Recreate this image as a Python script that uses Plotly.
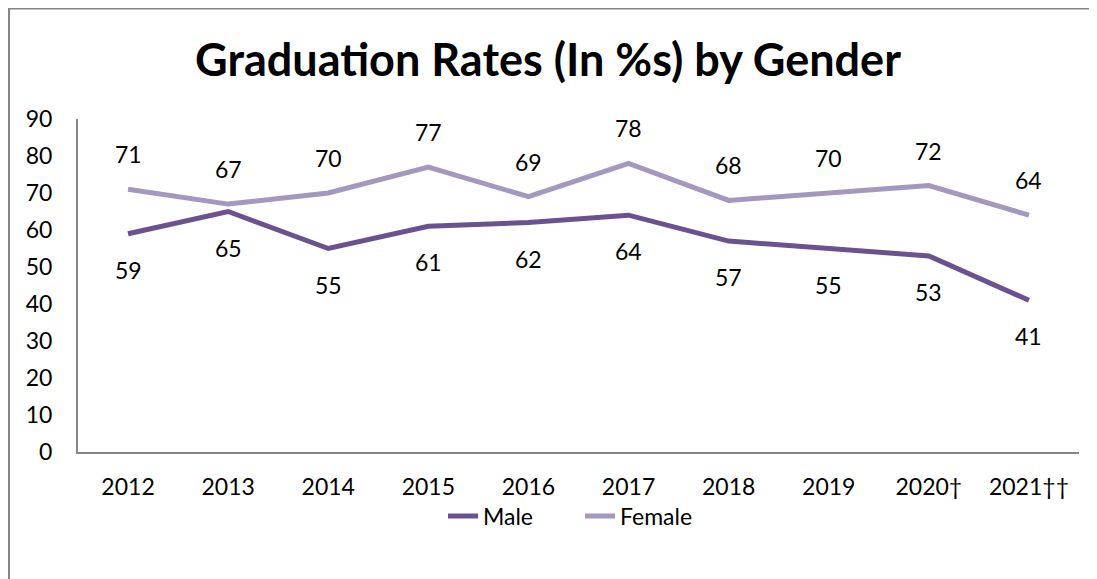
import plotly.graph_objects as go

years = ["2012", "2013", "2014", "2015", "2016", "2017", "2018", "2019", "2020\u2020", "2021\u2020\u2020"]
male = [59, 65, 55, 61, 62, 64, 57, 55, 53, 41]
female = [71, 67, 70, 77, 69, 78, 68, 70, 72, 64]

MALE_C = "#6a5190"
FEMALE_C = "#a597bd"
FONT = "Lato"

# page renders with an 8px body offset
L, T, R, B = 70, 111, 1071, 444
PW, PH = R - L, B - T

fig = go.Figure()
fig.add_trace(go.Scatter(x=years, y=male, mode="lines", name="Male",
                         line=dict(color=MALE_C, width=5)))
fig.add_trace(go.Scatter(x=years, y=female, mode="lines", name="Female",
                         line=dict(color=FEMALE_C, width=5)))

for i, v in enumerate(female):
    fig.add_annotation(x=i, y=v, text=str(v), showarrow=False, yshift=35,
                       font=dict(size=23, color="black", family=FONT))
for i, v in enumerate(male):
    fig.add_annotation(x=i, y=v, text=str(v), showarrow=False, yshift=-36,
                       font=dict(size=23, color="black", family=FONT))

# outer chart border
fig.add_shape(type="rect", xref="paper", yref="paper",
              x0=(1 - L) / PW, x1=1.2, y0=-0.6, y1=(B - 0.5) / PH,
              line=dict(color="#868686", width=2), layer="below")

fig.update_layout(
    width=1097, height=579,
    margin=dict(l=L, r=1097 - R, t=T, b=579 - B, autoexpand=False),
    paper_bgcolor="white", plot_bgcolor="white",
    font=dict(family=FONT, size=23, color="black"),
    title=dict(text="<b>Graduation Rates (In %s) by Gender</b>", x=(548 - 8) / 1097, xanchor="center",
               y=1 - 52 / 579, yanchor="middle", font=dict(size=45, family=FONT, color="black")),
    xaxis=dict(type="category", range=[-0.5, 9.5], showgrid=False, showline=True,
               linecolor="#868686", linewidth=2, ticks="", zeroline=False,
               ticklabelstandoff=13, tickfont=dict(size=23)),
    yaxis=dict(range=[0, 90], dtick=10, showgrid=False, showline=True, linecolor="#868686", linewidth=2,
               ticks="", zeroline=False, ticklabelstandoff=19, tickfont=dict(size=23)),
    legend=dict(orientation="h", x=(435 / 1097), xref="container", xanchor="left",
                y=1 - 508 / 579, yref="container", yanchor="middle", entrywidth=92,
                font=dict(size=23), bgcolor="rgba(0,0,0,0)"),
    showlegend=True,
)

fig.write_html("out.html")
